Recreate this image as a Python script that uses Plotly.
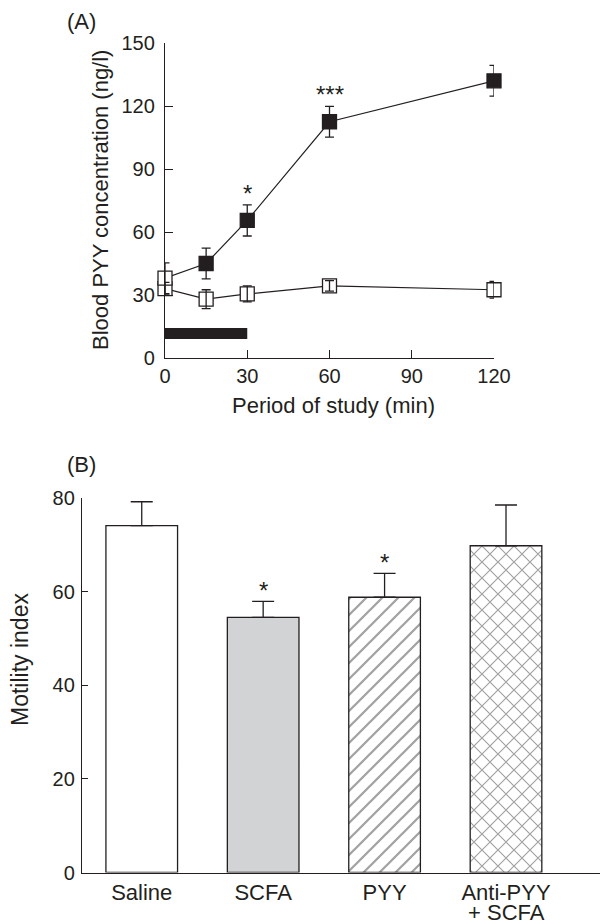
import math
import plotly.graph_objects as go

# ---------------- Panel A data ----------------
time_min = [0, 15, 30, 60, 120]
pyy_scfa = [38, 45, 65.5, 112.5, 132]
pyy_scfa_err = [7.3, 7.3, 7.4, 7.3, 7.3]
pyy_control = [33, 28, 30.5, 34.3, 32.5]
pyy_control_err = [3, 4.5, 3.8, 2.5, 4]
infusion_period = [0, 30]
infusion_band = [9, 14.3]
sig_A_time = [30, 60]
sig_A_text = ["*", "***"]
xticks_A = [0, 30, 60, 90, 120]
yticks_A = [0, 30, 60, 90, 120, 150]

# ---------------- Panel B data ----------------
groups = ["Saline", "SCFA", "PYY", "Anti-PYY"]
group_sublabels = ["", "", "", "+ SCFA"]
motility = [74.1, 54.5, 58.8, 69.8]
motility_err = [5.1, 3.4, 5.1, 8.7]
sig_B_text = ["", "*", "*", ""]
yticks_B = [0, 20, 40, 60, 80]

INK = "#231f20"
GREY = "#d1d3d4"
FONT = "Liberation Sans, Arial, sans-serif"
PAGE_W, PAGE_H = 608, 924
OFF = 8  # default page body margin
W, H = PAGE_W - OFF, PAGE_H - OFF
HATCH_TILE = 16  # pattern tile width in px (integer for crisp rendering)


def fx(p):
    return (p - OFF) / W


def fy(p):
    return 1 - (p - OFF) / H


fig = go.Figure()

# Panel A lines + markers
fig.add_trace(go.Scatter(
    x=time_min, y=pyy_control, mode="lines+markers",
    line=dict(color=INK, width=1.2),
    marker=dict(symbol="square", size=14, color="white", line=dict(color=INK, width=1.3)),
    cliponaxis=False, xaxis="x", yaxis="y", hoverinfo="skip"))
scfa_colors = ["white"] + [INK] * (len(time_min) - 1)
fig.add_trace(go.Scatter(
    x=time_min, y=pyy_scfa, mode="lines+markers",
    line=dict(color=INK, width=1.2),
    marker=dict(symbol="square", size=14, color=scfa_colors, line=dict(color=INK, width=1.3)),
    cliponaxis=False, xaxis="x", yaxis="y", hoverinfo="skip"))
# error bars drawn on top of markers
for yv, ev in [(pyy_control, pyy_control_err), (pyy_scfa, pyy_scfa_err)]:
    fig.add_trace(go.Scatter(
        x=time_min, y=yv, mode="markers",
        marker=dict(size=1, color="rgba(0,0,0,0)"),
        error_y=dict(type="data", array=ev, color=INK, thickness=1.3, width=4.5),
        cliponaxis=False, xaxis="x", yaxis="y", hoverinfo="skip"))

# Panel B bars
fig.add_trace(go.Bar(
    x=list(range(len(groups))), y=motility, width=0.59,
    marker=dict(color=["white", GREY, "white", "white"],
                line=dict(color=INK, width=1.3),
                pattern=dict(shape=["", "", "/", "x"], size=HATCH_TILE / math.sqrt(2),
                             solidity=0.2, fgcolor="#000000", bgcolor="white")),
    error_y=dict(type="data", symmetric=False, array=motility_err,
                 arrayminus=[0] * len(groups), color=INK, thickness=1.3, width=11),
    xaxis="x2", yaxis="y2", hoverinfo="skip"))

axc = dict(showline=True, linecolor=INK, linewidth=1.3, ticks="inside", tickcolor=INK,
           tickwidth=1.3, showgrid=False, zeroline=False, automargin=False,
           tickfont=dict(family=FONT, size=20, color=INK))

annotations = []
for t, s in zip(sig_A_time, sig_A_text):
    i = time_min.index(t)
    annotations.append(dict(x=t, y=pyy_scfa[i] + pyy_scfa_err[i], xref="x", yref="y",
                            text=s, showarrow=False, xanchor="center", yanchor="bottom",
                            yshift=-4, font=dict(family=FONT, size=24, color=INK)))
for i, s in enumerate(sig_B_text):
    if s:
        annotations.append(dict(x=i, y=motility[i] + motility_err[i], xref="x2", yref="y2",
                                text=s, showarrow=False, xanchor="center", yanchor="bottom",
                                yshift=-5, font=dict(family=FONT, size=24, color=INK)))
for i, s in enumerate(group_sublabels):
    if s:
        annotations.append(dict(x=i, y=fy(912), xref="x2", yref="paper", text=s,
                                showarrow=False, xanchor="center", yanchor="middle",
                                font=dict(family=FONT, size=22, color=INK)))


def lab(x, y, text, angle=0, size=22):
    return dict(x=fx(x), y=fy(y), xref="paper", yref="paper", text=text, showarrow=False,
                xanchor="center", yanchor="middle", textangle=angle,
                font=dict(family=FONT, size=size, color=INK))


annotations += [
    lab(81, 22, "(A)"),
    lab(81, 464, "(B)"),
    lab(333, 405, "Period of study (min)"),
    lab(100, 200, "Blood PYY concentration (ng/l)", -90),
    lab(20, 660, "Motility index", -90, 23),
]

shapes = [dict(type="rect", xref="x", yref="y",
               x0=infusion_period[0], x1=infusion_period[1],
               y0=infusion_band[0], y1=infusion_band[1],
               fillcolor=INK, line=dict(width=0))]

fig.update_layout(
    width=W, height=H, autosize=False,
    margin=dict(l=0, r=0, t=0, b=0, autoexpand=False),
    paper_bgcolor="white", plot_bgcolor="white",
    showlegend=False,
    font=dict(family=FONT, color=INK),
    xaxis=dict(domain=[fx(165), fx(494)], range=[0, 120], tickvals=xticks_A, ticklen=8,
               anchor="y", **axc),
    yaxis=dict(domain=[fy(358), fy(43)], range=[0, 150], tickvals=yticks_A, ticklen=8,
               ticklabelstandoff=5, anchor="x", **axc),
    xaxis2=dict(domain=[fx(82), 1], range=[-0.492, 3.84], tickvals=list(range(len(groups))),
                ticktext=groups, anchor="y2",
                **{**axc, "ticks": "", "tickfont": dict(family=FONT, size=22, color=INK)}),
    yaxis2=dict(domain=[fy(872.5), fy(498)], range=[0, 80], tickvals=yticks_B, ticklen=6,
                ticklabelstandoff=2, anchor="x2", **axc),
    annotations=annotations,
    shapes=shapes,
)

fig.write_html("out.html")
